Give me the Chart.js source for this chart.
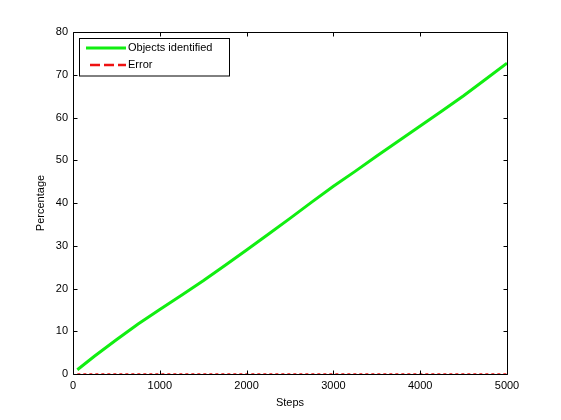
<!DOCTYPE html>
<html>
<head>
<meta charset="utf-8">
<script src="https://cdn.jsdelivr.net/npm/chart.js@4/dist/chart.umd.min.js"></script>
<style>
  html, body { margin: 0; padding: 0; background: #fff; }
  #wrap { width: 561px; height: 420px; }
</style>
</head>
<body>
<div id="wrap"><canvas id="chart" width="561" height="420"></canvas></div>
<script>
// values
const steps = [50, 250, 500, 750, 1000, 1250, 1500, 1750, 2000, 2250, 2500,
               2750, 3000, 3250, 3500, 3750, 4000, 4250, 4500, 4750, 5000];
const identified = [1.0, 4.2, 8.0, 11.7, 15.1, 18.4, 21.8, 25.4, 29.0, 32.7, 36.4,
                    40.2, 43.9, 47.4, 51.0, 54.5, 58.0, 61.5, 65.1, 68.9, 72.7];
const errors = [0, 0, 0, 0, 0, 0, 0, 0, 0, 0, 0,
                0, 0, 0, 0, 0, 0, 0, 0, 0, 0];
const xTicks = [0, 1000, 2000, 3000, 4000, 5000];
const yTicks = [0, 10, 20, 30, 40, 50, 60, 70, 80];

const FONT = 'Liberation Sans, Arial, sans-serif';

// box, inward ticks and legend like a matlab figure
const matlabAxes = {
  id: 'matlabAxes',
  afterDraw(chart) {
    const ctx = chart.ctx;
    const a = chart.chartArea;
    const xs = chart.scales.x, ys = chart.scales.y;
    ctx.save();
    ctx.strokeStyle = '#000';
    ctx.lineWidth = 1;
    ctx.beginPath();
    const L = Math.round(a.left) + 0.5, R = Math.round(a.right) + 0.5;
    const T = Math.round(a.top) + 0.5, B = Math.round(a.bottom) + 0.5;
    ctx.rect(L, T, R - L, B - T);
    xTicks.forEach(v => {
      const px = Math.round(xs.getPixelForValue(v)) + 0.5;
      ctx.moveTo(px, B); ctx.lineTo(px, B - 4);
      ctx.moveTo(px, T); ctx.lineTo(px, T + 4);
    });
    yTicks.forEach(v => {
      const py = Math.round(ys.getPixelForValue(v)) + 0.5;
      ctx.moveTo(L, py); ctx.lineTo(L + 4, py);
      ctx.moveTo(R, py); ctx.lineTo(R - 4, py);
    });
    ctx.stroke();

    // legend
    const lx = 79.5, ly = 38.5, lw = 150, lh = 37.5;
    ctx.fillStyle = '#fff';
    ctx.fillRect(lx, ly, lw, lh);
    ctx.strokeRect(lx, ly, lw, lh);
    ctx.font = '11px ' + FONT;
    ctx.textBaseline = 'middle';
    ctx.textAlign = 'left';
    const rows = [48, 65];
    chart.data.datasets.forEach((ds, i) => {
      const y = rows[i];
      ctx.strokeStyle = ds.borderColor;
      ctx.lineWidth = ds.legendWidth;
      ctx.setLineDash(ds.legendDash || []);
      ctx.beginPath();
      ctx.moveTo(ds.legendDash ? 90 : 86, y);
      ctx.lineTo(126, y);
      ctx.stroke();
      ctx.setLineDash([]);
      ctx.fillStyle = '#000';
      ctx.fillText(ds.label, 128, y);
    });
    ctx.restore();
  }
};

new Chart(document.getElementById('chart'), {
  type: 'line',
  data: {
    datasets: [
      {
        label: 'Objects identified',
        data: steps.map((s, i) => ({ x: s, y: identified[i] })),
        borderColor: '#11ee11',
        borderWidth: 3,
        legendWidth: 3,
        pointRadius: 0,
        tension: 0,
        fill: false
      },
      {
        label: 'Error',
        data: steps.map((s, i) => ({ x: s, y: errors[i] })),
        borderColor: '#ee1111',
        borderWidth: 1.5,
        legendWidth: 2.5,
        borderDash: [3, 3],
        legendDash: [10, 4],
        pointRadius: 0,
        tension: 0,
        fill: false
      }
    ]
  },
  options: {
    responsive: false,
    animation: false,
    layout: { padding: { left: 0, top: 32, right: 54, bottom: 0 } },
    plugins: { legend: { display: false }, tooltip: { enabled: false } },
    scales: {
      x: {
        type: 'linear',
        min: 0, max: 5000,
        afterBuildTicks: s => { s.ticks = xTicks.map(v => ({ value: v })); },
        afterFit: s => { s.height = 46; },
        grid: { display: false, drawTicks: false },
        border: { display: false },
        ticks: { color: '#000', font: { family: FONT, size: 11 }, padding: 5, maxRotation: 0,
                 callback: v => String(v) },
        title: { display: true, text: 'Steps', color: '#000', font: { family: FONT, size: 11 }, padding: { top: 0, bottom: 10 } }
      },
      y: {
        type: 'linear',
        min: 0, max: 80,
        afterBuildTicks: s => { s.ticks = yTicks.map(v => ({ value: v })); },
        afterFit: s => { s.width = 73; },
        grid: { display: false, drawTicks: false },
        border: { display: false },
        ticks: { color: '#000', font: { family: FONT, size: 11 }, padding: 5,
                 callback: v => String(v) },
        title: { display: true, text: 'Percentage', color: '#000', font: { family: FONT, size: 11 }, padding: { top: 34, bottom: 0 } }
      }
    }
  },
  plugins: [matlabAxes]
});
</script>
</body>
</html>
